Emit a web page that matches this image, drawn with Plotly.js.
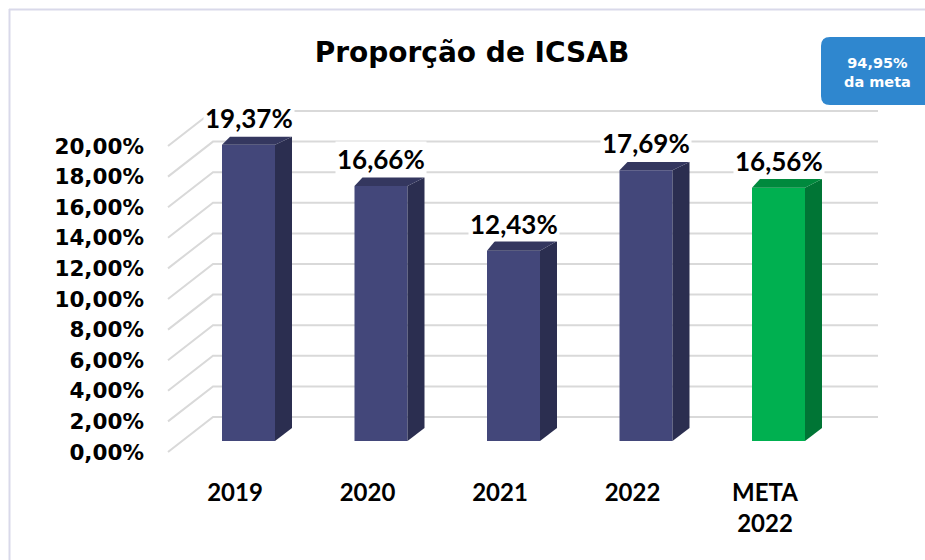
<!DOCTYPE html>
<html><head><meta charset="utf-8">
<script src="https://cdn.plot.ly/plotly-3.0.1.min.js"></script>
<style>html,body{margin:0;padding:0;background:#fff}</style>
</head><body><div id="chart" style="width:925px;height:560px"></div>
<script>
// ---- data ----
const categories = ["2019", "2020", "2021", "2022", "META<br>2022"];
const values = [19.37, 16.66, 12.43, 17.69, 16.56];
const valueLabels = ["19,37%", "16,66%", "12,43%", "17,69%", "16,56%"];
const yTickVals = [0, 2, 4, 6, 8, 10, 12, 14, 16, 18, 20];
const yTickText = ["0,00%", "2,00%", "4,00%", "6,00%", "8,00%", "10,00%", "12,00%", "14,00%", "16,00%", "18,00%", "20,00%"];
const titleText = "Proporção de ICSAB";
const badgeText = "94,95%<br>da meta";

// ---- styling / geometry ----
const W = 925, H = 560, ML = 148, MB = 90;
const PW = W - ML, PH = H - MB;
const PXX = 132.5, X0PX = 235, PXY = 15.3, Y0PX = 452;
const dx = p => p / PXX, dy = p => p / PXY;
const xr = [(ML - X0PX) / PXX, (W - X0PX) / PXX];
const yr = [(Y0PX - PH) / PXY, Y0PX / PXY];
const px2x = p => (p - ML) / PW, px2y = p => (PH - p) / PH;

const frontCol = ["#43477a", "#43477a", "#43477a", "#43477a", "#00b050"];
const sideCol = ["#2b2e50", "#2b2e50", "#2b2e50", "#2b2e50", "#007535"];
const topCol = ["#34375f", "#34375f", "#34375f", "#34375f", "#00893d"];

const traces = [];
const shapes = [];
// gridlines (side wall diagonals + back wall), drawn below the bars
yTickVals.forEach(t => {
  const xa = dx(168 - X0PX), xb = dx(213 - X0PX), xc = dx(878 - X0PX), yb = t + dy(35);
  shapes.push({type: "path", xref: "x", yref: "y", layer: "below",
    path: "M" + xa + "," + t + " L" + xb + "," + yb + " L" + xc + "," + yb,
    line: {color: "#d9d9d9", width: 2}});
});

const base = dy(11), shift = dx(13.5), halfw = dx(26.5);
const xs = values.map((v, i) => i + shift);
// front faces
traces.push({type: "bar", x: xs, y: values, base: base, width: 2 * halfw,
  marker: {color: frontCol, line: {width: 0}}, hoverinfo: "skip", showlegend: false});
// side and top faces
values.forEach((v, i) => {
  const L = xs[i] - halfw, R = xs[i] + halfw, top = base + v;
  const dTop = dy(13 - 5 * v / 19.37), dBot = dy(13);
  traces.push({type: "scatter", mode: "lines", fill: "toself", fillcolor: sideCol[i],
    x: [R, R, R + dx(17), R + dx(17), R], y: [base, top, top + dTop, base + dBot, base],
    line: {width: 0, color: sideCol[i]}, hoverinfo: "skip", showlegend: false});
  traces.push({type: "scatter", mode: "lines", fill: "toself", fillcolor: topCol[i],
    x: [L, R, R + dx(17), L + dx(8), L], y: [top, top, top + dTop, top + dTop, top],
    line: {width: 0, color: topCol[i]}, hoverinfo: "skip", showlegend: false});
});

const annotations = values.map((v, i) => ({
  x: xs[i], y: base + v + dy(27), xref: "x", yref: "y", text: valueLabels[i], showarrow: false,
  font: {family: "Lato", size: 26, color: "#000", weight: 700},
  bgcolor: "#ffffff", borderpad: 1, xanchor: "center", yanchor: "middle"
}));
annotations.push({
  x: px2x(877), y: px2y(73), xref: "paper", yref: "paper", text: badgeText, showarrow: false,
  font: {family: "DejaVu Sans", size: 14.5, color: "#ffffff", weight: 700},
  xanchor: "center", yanchor: "middle"
});

const bx1 = 821, bx2 = 940, by1 = 37, by2 = 105, r = 9;
const P = (a, b) => px2x(a) + "," + px2y(b);
const badgePath = "M" + P(bx1 + r, by1) + " L" + P(bx2, by1) + " L" + P(bx2, by2) + " L" + P(bx1 + r, by2) +
  " Q" + P(bx1, by2) + " " + P(bx1, by2 - r) + " L" + P(bx1, by1 + r) + " Q" + P(bx1, by1) + " " + P(bx1 + r, by1) + " Z";

shapes.push(
  {type: "line", xref: "paper", yref: "paper", x0: px2x(9), x1: px2x(930), y0: px2y(9.5), y1: px2y(9.5), line: {color: "#d9d9ea", width: 2}},
  {type: "line", xref: "paper", yref: "paper", x0: px2x(9.5), x1: px2x(9.5), y0: px2y(9), y1: px2y(570), line: {color: "#d9d9ea", width: 2}},
  {type: "path", xref: "paper", yref: "paper", path: badgePath, fillcolor: "#2f87cf", line: {width: 0}, layer: "above"}
);

const layout = {
  width: W, height: H,
  margin: {l: ML, r: 0, t: 0, b: MB, pad: 0},
  paper_bgcolor: "#ffffff", plot_bgcolor: "#ffffff",
  showlegend: false, barmode: "overlay",
  title: {text: titleText, xref: "container", yref: "container", x: 472 / W, y: 1 - 52 / H,
    xanchor: "center", yanchor: "middle", font: {family: "DejaVu Sans", size: 28, color: "#000", weight: 700}},
  xaxis: {range: xr, fixedrange: true, showgrid: false, zeroline: false, showline: false, ticks: "",
    tickmode: "array", tickvals: categories.map((c, i) => i), ticktext: categories,
    tickfont: {family: "Lato", size: 24, color: "#000", weight: 700}, ticklabelstandoff: 6},
  yaxis: {range: yr, fixedrange: true, showgrid: false, zeroline: false, showline: false, ticks: "",
    tickmode: "array", tickvals: yTickVals, ticktext: yTickText,
    tickfont: {family: "DejaVu Sans", size: 21.5, color: "#000", weight: 700}, ticklabelstandoff: 3},
  annotations: annotations,
  shapes: shapes
};

Plotly.newPlot("chart", traces, layout, {displayModeBar: false, staticPlot: true});
</script></body></html>
